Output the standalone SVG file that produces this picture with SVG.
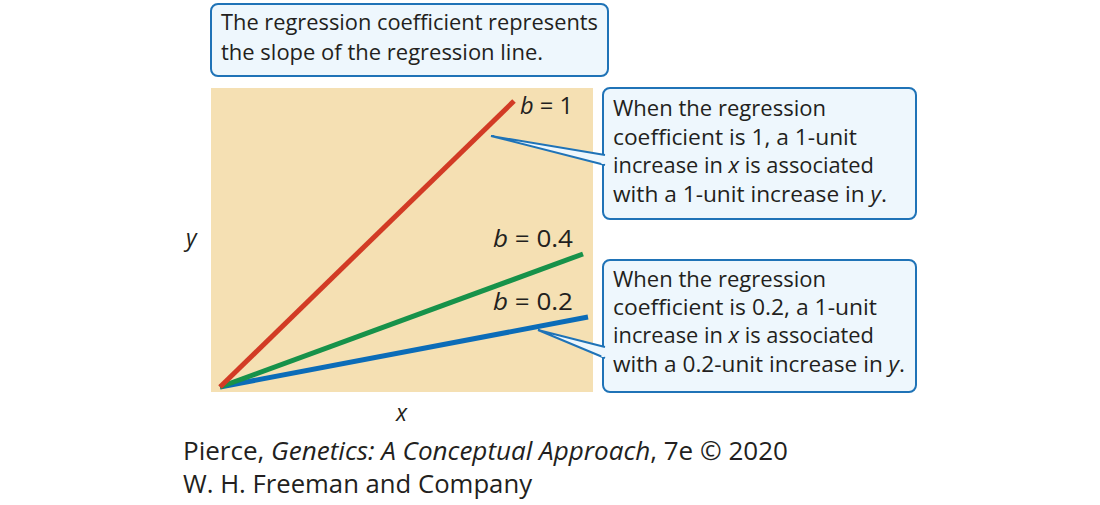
<svg xmlns="http://www.w3.org/2000/svg" width="1100" height="505" viewBox="0 0 1100 505">
<style>
.t{font-family:"Open Sans","Liberation Sans",sans-serif;fill:#231f20;font-size:21px}
.lb{font-family:"Open Sans","Liberation Sans",sans-serif;fill:#231f20;font-size:23px}
.cr{font-family:"Open Sans","Liberation Sans",sans-serif;fill:#231f20;font-size:25px}
.box{fill:#eef7fd;stroke:#1f73b7;stroke-width:2}
.ln{stroke-width:5;stroke-linecap:butt;fill:none}
</style>
<rect x="211" y="88" width="382" height="304" fill="#f5e0b3"/>
<g id="connectors">
<line class="ln" x1="220" y1="387" x2="588" y2="317" stroke="#0b6cb8"/>
<line class="ln" x1="220" y1="387" x2="583" y2="254" stroke="#17924a"/>
<line class="ln" x1="220" y1="387" x2="514" y2="101" stroke="#d23b25"/>
</g>
<g id="labels">
<text class="lb" x="520" y="114" textLength="53" lengthAdjust="spacingAndGlyphs"><tspan font-style="italic">b</tspan> = 1</text>
<text class="lb" x="493" y="247" textLength="80" lengthAdjust="spacingAndGlyphs"><tspan font-style="italic">b</tspan> = 0.4</text>
<text class="lb" x="493" y="310" textLength="80" lengthAdjust="spacingAndGlyphs"><tspan font-style="italic">b</tspan> = 0.2</text>
<text class="lb" x="186" y="246" font-style="italic" font-size="24">y</text>
<text class="lb" x="396" y="421" font-style="italic" font-size="24">x</text>
</g>
<g id="box-top">
<rect class="box" x="211" y="4" width="397" height="72" rx="7"/>
<text class="t" x="221" y="30" textLength="377" lengthAdjust="spacingAndGlyphs">The regression coefficient represents</text>
<text class="t" x="221" y="60" textLength="322" lengthAdjust="spacingAndGlyphs">the slope of the regression line.</text>
</g>
<g id="box-b1">
<rect class="box" x="603" y="88" width="313" height="131" rx="7"/>
<path d="M605,155 L491,136 L605,165" fill="#eef7fd" stroke="#1f73b7" stroke-width="2" stroke-linejoin="miter"/>
<line x1="603" y1="156" x2="603" y2="164" stroke="#eef7fd" stroke-width="3"/>
<text class="t" x="613" y="116" textLength="213" lengthAdjust="spacingAndGlyphs">When the regression</text>
<text class="t" x="613" y="145" textLength="244" lengthAdjust="spacingAndGlyphs">coefficient is 1, a 1-unit</text>
<text class="t" x="613" y="173" textLength="261" lengthAdjust="spacingAndGlyphs">increase in <tspan font-style="italic">x</tspan> is associated</text>
<text class="t" x="613" y="202" textLength="274" lengthAdjust="spacingAndGlyphs">with a 1-unit increase in <tspan font-style="italic">y</tspan>.</text>
</g>
<g id="box-b02">
<rect class="box" x="603" y="260" width="313" height="132" rx="7"/>
<path d="M605,347 L538,330 L605,358" fill="#eef7fd" stroke="#1f73b7" stroke-width="2" stroke-linejoin="miter"/>
<line x1="603" y1="348" x2="603" y2="357" stroke="#eef7fd" stroke-width="3"/>
<text class="t" x="613" y="287" textLength="213" lengthAdjust="spacingAndGlyphs">When the regression</text>
<text class="t" x="613" y="315" textLength="264" lengthAdjust="spacingAndGlyphs">coefficient is 0.2, a 1-unit</text>
<text class="t" x="613" y="343" textLength="261" lengthAdjust="spacingAndGlyphs">increase in <tspan font-style="italic">x</tspan> is associated</text>
<text class="t" x="613" y="372" textLength="292" lengthAdjust="spacingAndGlyphs">with a 0.2-unit increase in <tspan font-style="italic">y</tspan>.</text>
</g>
<g id="credit">
<text class="cr" x="183" y="460" textLength="605" lengthAdjust="spacingAndGlyphs">Pierce, <tspan font-style="italic">Genetics: A Conceptual Approach</tspan>, 7e © 2020</text>
<text class="cr" x="183" y="493" textLength="349" lengthAdjust="spacingAndGlyphs">W. H. Freeman and Company</text>
</g>
</svg>
